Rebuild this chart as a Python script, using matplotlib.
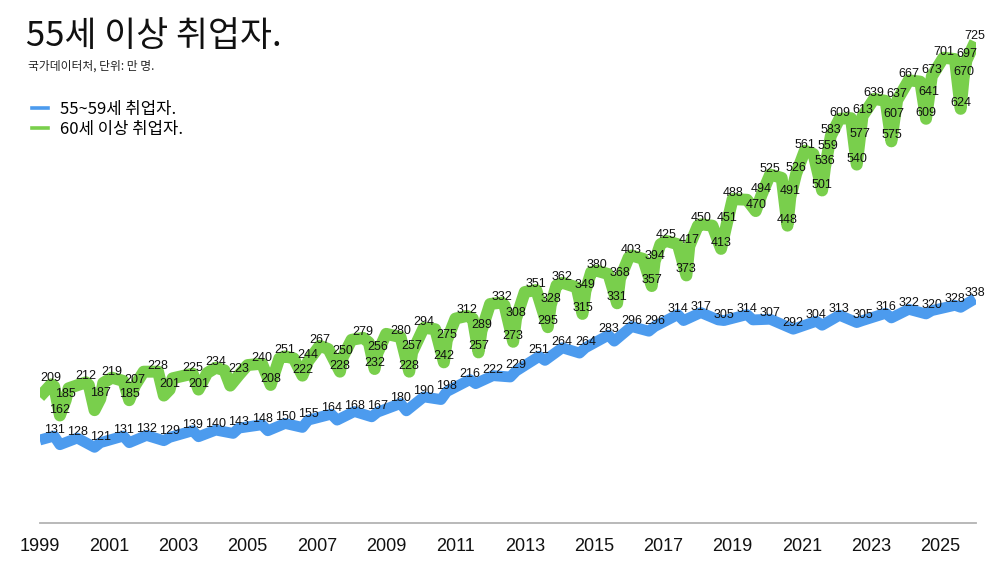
import matplotlib
matplotlib.use("Agg")
import matplotlib.pyplot as plt
from matplotlib.lines import Line2D
import numpy as np

# ---- data (months since 1999-06; values in 만 명) ----
green_month = [0, 4, 5, 7, 9, 10, 16, 17, 19, 21, 22, 25, 29, 31, 33, 36, 41, 43, 45, 46,
               53, 55, 58, 61, 64, 66, 69, 72, 77, 80, 83, 85, 88, 91, 93, 97, 100, 104, 105, 108,
               112, 114, 116, 117, 120, 125, 128, 129, 133, 137, 140, 141, 144, 148, 150, 152, 153, 156, 160, 161,
               164, 165, 168, 172, 176, 177, 179, 181, 186, 188, 189, 191, 193, 197, 200, 201, 204, 205, 209, 212,
               213, 215, 217, 221, 224, 225, 228, 229, 233, 236, 238, 240, 245, 248, 250, 253, 257, 259, 260, 262,
               265, 268, 271, 272, 273, 274, 277, 281, 283, 284, 285, 289, 293, 295, 296, 297, 301, 305, 307, 308,
               309, 313, 317, 319, 320, 321, 324]
green_value = [190, 209, 206, 162, 185, 203, 212, 208, 170, 187, 211, 219, 214, 185, 207, 228, 228, 192, 201, 218,
               225, 201, 226, 234, 230, 207, 223, 238, 240, 208, 248, 251, 248, 222, 244, 267, 262, 228, 250, 276,
               279, 272, 232, 256, 285, 280, 228, 257, 294, 292, 242, 275, 308, 312, 308, 257, 289, 330, 332, 328,
               273, 308, 348, 351, 295, 328, 358, 362, 355, 315, 349, 378, 380, 375, 331, 368, 400, 403, 398, 357,
               394, 420, 425, 420, 373, 417, 448, 450, 448, 413, 451, 488, 487, 470, 494, 525, 520, 448, 491, 526,
               561, 556, 501, 536, 559, 583, 609, 610, 540, 577, 613, 639, 636, 575, 607, 637, 667, 665, 609, 641,
               673, 701, 699, 624, 670, 697, 725]
green_labeled = [0, 1, 0, 1, 1, 0, 1, 0, 0, 1, 0, 1, 0, 1, 1, 0, 1, 0, 1, 0,
                 1, 1, 0, 1, 0, 0, 1, 0, 1, 1, 0, 1, 0, 1, 1, 1, 0, 1, 1, 0,
                 1, 0, 1, 1, 0, 1, 1, 1, 1, 0, 1, 1, 0, 1, 0, 1, 1, 0, 1, 0,
                 1, 1, 0, 1, 1, 1, 0, 1, 0, 1, 1, 0, 1, 0, 1, 1, 0, 1, 0, 1,
                 1, 0, 1, 0, 1, 1, 0, 1, 0, 1, 1, 1, 0, 1, 1, 1, 0, 1, 1, 1,
                 1, 0, 1, 1, 1, 1, 1, 0, 1, 1, 1, 1, 0, 1, 1, 1, 1, 0, 1, 1,
                 1, 1, 0, 1, 1, 1, 1]

blue_month = [0, 5, 7, 13, 19, 21, 29, 31, 37, 43, 45, 53, 55, 61, 67, 69, 77, 79, 85, 91,
              93, 101, 103, 109, 115, 117, 125, 127, 133, 139, 141, 149, 151, 157, 163, 165, 173, 175, 181, 187,
              189, 197, 199, 205, 211, 213, 221, 223, 229, 235, 237, 245, 247, 253, 261, 269, 271, 277, 283, 285,
              293, 295, 301, 307, 309, 317, 319, 324]
blue_value = [125, 131, 118, 128, 114, 121, 131, 121, 132, 124, 129, 139, 130, 140, 135, 143, 148, 139, 150, 144,
              155, 164, 155, 168, 160, 167, 180, 169, 190, 186, 198, 216, 210, 222, 220, 229, 251, 245, 264, 256,
              264, 283, 274, 296, 289, 296, 314, 305, 317, 306, 305, 314, 306, 307, 292, 304, 298, 313, 302, 305,
              316, 309, 322, 315, 320, 328, 325, 338]
blue_labeled = [0, 1, 0, 1, 0, 1, 1, 0, 1, 0, 1, 1, 0, 1, 0, 1, 1, 0, 1, 0,
                1, 1, 0, 1, 0, 1, 1, 0, 1, 0, 1, 1, 0, 1, 0, 1, 1, 0, 1, 0,
                1, 1, 0, 1, 0, 1, 1, 0, 1, 0, 1, 1, 0, 1, 1, 1, 0, 1, 0, 1,
                1, 0, 1, 0, 1, 1, 0, 1]

tick_years = list(range(1999, 2026, 2))
series_names = ["55~59세 취업자.", "60세 이상 취업자."]
title = "55세 이상 취업자."
subtitle = "국가데이터처, 단위: 만 명."

# ---- style ----
BLUE = "#4C9BEE"
GREEN = "#79CF4C"
KR = ["Noto Sans CJK KR", "DejaVu Sans"]
NUM = ["Liberation Sans", "DejaVu Sans"]

fig = plt.figure(figsize=(10, 5.63), dpi=100)
ax = fig.add_axes([0.0397, 40 / 563, 0.936, 523 / 563])
ax.set_xlim(0, 324.2)
ax.set_ylim(0, 788)

for months, vals, col, lw in [(blue_month, blue_value, BLUE, 7.8), (green_month, green_value, GREEN, 8.6)]:
    ax.plot(months, vals, color=col, lw=lw, solid_joinstyle="round",
            solid_capstyle="butt", zorder=2)

for months, vals, flags in [(blue_month, blue_value, blue_labeled),
                            (green_month, green_value, green_labeled)]:
    for m, v, f in zip(months, vals, flags):
        if f:
            ax.annotate(str(v), (m, v), xytext=(0, 4.3), textcoords="offset points",
                        ha="center", va="center", fontsize=9, family=NUM,
                        color="#111111", zorder=5)

for s in ["top", "left", "right"]:
    ax.spines[s].set_visible(False)
ax.spines["bottom"].set_color("#b3b3b3")
ax.spines["bottom"].set_linewidth(1.3)
ax.set_yticks([])
ax.set_xticks([(y - 1999) * 12 for y in tick_years])
ax.set_xticklabels([str(y) for y in tick_years], family=NUM, fontsize=13, color="#111111")
ax.tick_params(axis="x", length=0, pad=10.5)

fig.text(0.026, 1 - 46 / 563, title, fontsize=25, family=KR, va="baseline", color="#111111")
fig.text(0.028, 1 - 66.5 / 563, subtitle, fontsize=8.5, family=KR, va="center", color="#222222")

handles = [Line2D([], [], color=BLUE, lw=2.6), Line2D([], [], color=GREEN, lw=2.6)]
leg = fig.legend(handles, series_names, loc="upper left", bbox_to_anchor=(0.032, 1 - 101 / 563),
                 frameon=False, prop={"family": KR, "size": 12}, handlelength=0.95,
                 handletextpad=0.75, labelspacing=0.2, borderaxespad=0, borderpad=0)

fig.savefig("out.png", dpi=100)
